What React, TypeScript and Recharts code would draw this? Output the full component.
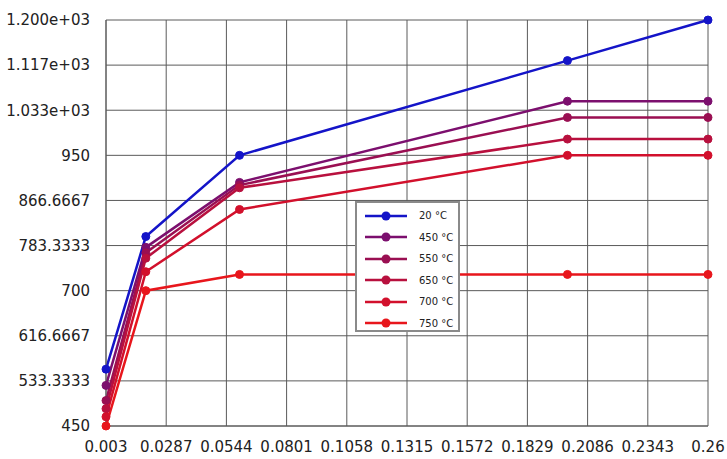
import React from "react";
import { LineChart, Line, XAxis, YAxis, CartesianGrid } from "recharts";

// strain values (x) and stress at each temperature (y)
const strain = [0.003, 0.02, 0.06, 0.2, 0.26];
const stress20 = [555, 800, 950, 1125, 1200];
const stress450 = [525, 780, 900, 1050, 1050];
const stress550 = [497, 770, 895, 1020, 1020];
const stress650 = [482, 760, 890, 980, 980];
const stress700 = [467, 735, 850, 950, 950];
const stress750 = [450, 700, 730, 730, 730];

const xTicks = [0.003, 0.0287, 0.0544, 0.0801, 0.1058, 0.1315, 0.1572, 0.1829, 0.2086, 0.2343, 0.26];
const xTickLabels = ["0.003", "0.0287", "0.0544", "0.0801", "0.1058", "0.1315", "0.1572", "0.1829", "0.2086", "0.2343", "0.26"];
const yTicks = [450, 533.3333, 616.6667, 700, 783.3333, 866.6667, 950, 1033.333, 1116.667, 1200];
const yTickLabels = ["450", "533.3333", "616.6667", "700", "783.3333", "866.6667", "950", "1.033e+03", "1.117e+03", "1.200e+03"];

const series = [
  { key: "t20", name: "20 °C", color: "#1414c8", values: stress20 },
  { key: "t450", name: "450 °C", color: "#7c0f6e", values: stress450 },
  { key: "t550", name: "550 °C", color: "#9a0f52", values: stress550 },
  { key: "t650", name: "650 °C", color: "#b8103e", values: stress650 },
  { key: "t700", name: "700 °C", color: "#d2102c", values: stress700 },
  { key: "t750", name: "750 °C", color: "#e8161c", values: stress750 },
];

const data = strain.map((x, i) => {
  const row: Record<string, number> = { x };
  series.forEach((s) => (row[s.key] = s.values[i]));
  return row;
});

const font = "'DejaVu Sans', Verdana, sans-serif";

// legend sits on top of the plot, so it is drawn outside recharts' layout
const LegendBox = () => (
  <div
    style={{
      position: "absolute",
      left: 355,
      top: 201,
      width: 105,
      height: 131,
      border: "2px solid #8a8a8a",
      background: "#fff",
      padding: "2px 0",
      fontFamily: font,
      fontSize: 10,
      color: "#222",
      boxSizing: "border-box",
    }}
  >
    {series.map((s) => (
      <div key={s.key} style={{ display: "flex", alignItems: "center", height: 21.5 }}>
        <svg width={58} height={12} style={{ marginLeft: 4 }}>
          <line x1={4} y1={6} x2={46} y2={6} stroke={s.color} strokeWidth={2.5} />
          <circle cx={25} cy={6} r={4.5} fill={s.color} />
        </svg>
        <span>{s.name}</span>
      </div>
    ))}
  </div>
);

export default function App() {
  return (
    <div style={{ position: "absolute", left: 0, top: 0, width: 727, height: 459, background: "#fff" }}>
      <LineChart
        width={727}
        height={459}
        data={data}
        margin={{ top: 20, right: 19, left: 10, bottom: 0 }}
      >
        <CartesianGrid stroke="#5a5a5a" strokeWidth={1} />
        <XAxis
          dataKey="x"
          type="number"
          domain={[0.003, 0.26]}
          ticks={xTicks}
          tickFormatter={(v: number) => xTickLabels[xTicks.indexOf(v)] ?? String(v)}
          interval={0}
          height={33}
          tickSize={0}
          tickMargin={15}
          axisLine={{ stroke: "#5a5a5a" }}
          tick={{ fontFamily: font, fontSize: 15, fill: "#222" }}
        />
        <YAxis
          type="number"
          domain={[450, 1200]}
          ticks={yTicks}
          tickFormatter={(v: number) => yTickLabels[yTicks.indexOf(v)] ?? String(v)}
          interval={0}
          width={96}
          tickSize={0}
          tickMargin={16}
          axisLine={{ stroke: "#5a5a5a" }}
          tick={{ fontFamily: font, fontSize: 15, fill: "#222" }}
        />
        {series.map((s) => (
          <Line
            key={s.key}
            dataKey={s.key}
            name={s.name}
            type="linear"
            stroke={s.color}
            strokeWidth={2.5}
            dot={{ r: 4, fill: s.color, stroke: s.color, strokeWidth: 1 }}
            isAnimationActive={false}
          />
        ))}
      </LineChart>
      <LegendBox />
    </div>
  );
}
